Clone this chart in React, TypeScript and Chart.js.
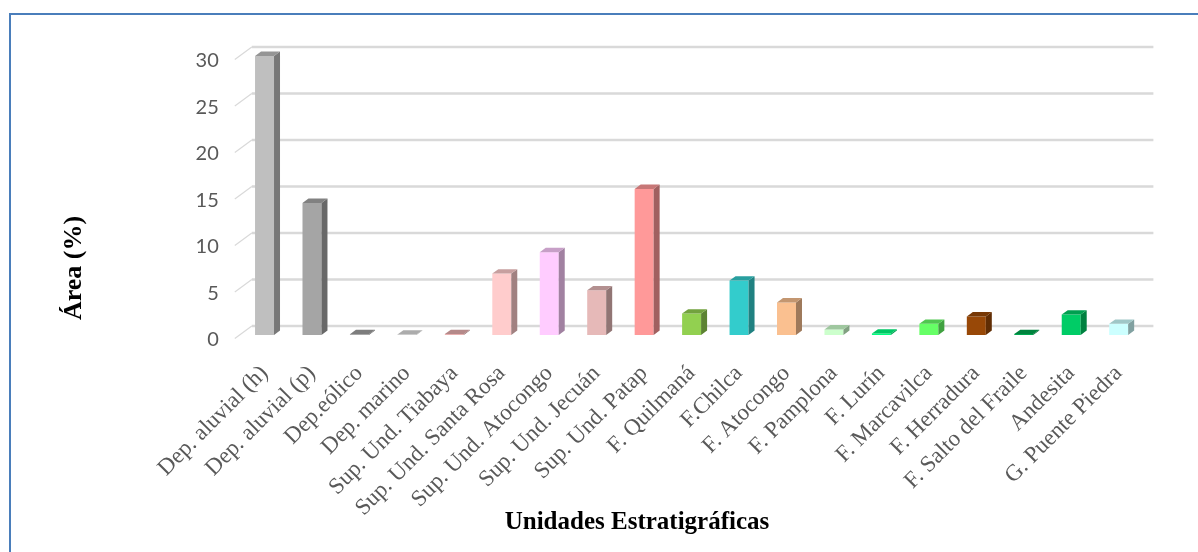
import React, { useEffect, useRef } from 'react';
import { Chart, registerables } from 'chart.js';

Chart.register(...registerables);

const categories = [
  'Dep. aluvial (h)',
  'Dep. aluvial (p)',
  'Dep.eólico',
  'Dep. marino',
  'Sup. Und. Tiabaya',
  'Sup. Und. Santa Rosa',
  'Sup. Und. Atocongo',
  'Sup. Und. Jecuán',
  'Sup. Und. Patap',
  'F. Quilmaná',
  'F.Chilca',
  'F. Atocongo',
  'F. Pamplona',
  'F. Lurín',
  'F. Marcavilca',
  'F. Herradura',
  'F. Salto del Fraile',
  'Andesita',
  'G. Puente Piedra',
];

const areaPercent = [30.0, 14.2, 0.08, 0.05, 0.1, 6.6, 8.9, 4.8, 15.7, 2.3, 5.85, 3.5, 0.6, 0.15, 1.2, 2.0, 0.1, 2.2, 1.2];

const barColors = [
  '#bfbfbf',
  '#a5a5a5',
  '#a0a0a0',
  '#dcdcdc',
  '#e8b0b0',
  '#ffcccc',
  '#ffccff',
  '#e6b9b8',
  '#ff9999',
  '#92d050',
  '#33cccc',
  '#fac090',
  '#ccffcc',
  '#00ff80',
  '#66ff66',
  '#984807',
  '#00a850',
  '#00cc66',
  '#ccffff',
];

const yTickValues = [0, 5, 10, 15, 20, 25, 30];
const yAxisTitle = 'Área (%)';
const xAxisTitle = 'Unidades Estratigráficas';

function shade(hex: string, f: number): string {
  const n = parseInt(hex.slice(1), 16);
  const r = Math.round(((n >> 16) & 255) * f);
  const g = Math.round(((n >> 8) & 255) * f);
  const b = Math.round((n & 255) * f);
  return `rgb(${r},${g},${b})`;
}

const BAR_LIFT = 5;
const BAR_DX = 6;
const BAR_DY = 4.4;
const WALL_DX = 17;
const WALL_DY = 12.4;

const threeDPlugin = {
  id: 'threeD',
  beforeDraw(chart: any) {
    const ctx = chart.ctx;
    ctx.save();
    ctx.fillStyle = '#ffffff';
    ctx.fillRect(0, 0, chart.width, chart.height);
    ctx.strokeStyle = '#4a7ebb';
    ctx.lineWidth = 2;
    ctx.beginPath();
    ctx.moveTo(10, chart.height + 2);
    ctx.lineTo(10, 14);
    ctx.lineTo(chart.width + 2, 14);
    ctx.stroke();
    ctx.restore();
  },
  beforeDatasetsDraw(chart: any) {
    const ctx = chart.ctx;
    const { left, right } = chart.chartArea;
    const y = chart.scales.y;
    ctx.save();
    yTickValues.forEach((v) => {
      const py = y.getPixelForValue(v);
      const fx = left - 6;
      const fy = py - 1.6;
      ctx.strokeStyle = '#d9d9d9';
      ctx.lineWidth = 1.2;
      ctx.beginPath();
      ctx.moveTo(fx, fy);
      ctx.lineTo(fx + WALL_DX, fy - WALL_DY);
      ctx.stroke();
      ctx.lineWidth = 2.4;
      ctx.beginPath();
      ctx.moveTo(fx + WALL_DX, fy - WALL_DY);
      ctx.lineTo(right + 11, fy - WALL_DY);
      ctx.stroke();
    });
    ctx.restore();
    ctx.save();
    ctx.translate(0, -BAR_LIFT);
  },
  afterDatasetsDraw(chart: any) {
    const ctx = chart.ctx;
    ctx.restore();
    const meta = chart.getDatasetMeta(0);
    ctx.save();
    meta.data.forEach((el: any, i: number) => {
      const p = el.getProps(['x', 'y', 'base', 'width'], true);
      const l = p.x - p.width / 2;
      const r = p.x + p.width / 2;
      const t = p.y - BAR_LIFT;
      const b = p.base - BAR_LIFT;
      const c = barColors[i];
      ctx.fillStyle = shade(c, 0.63);
      ctx.beginPath();
      ctx.moveTo(r, t);
      ctx.lineTo(r + BAR_DX, t - BAR_DY);
      ctx.lineTo(r + BAR_DX, b - BAR_DY);
      ctx.lineTo(r, b);
      ctx.closePath();
      ctx.fill();
      ctx.fillStyle = shade(c, 0.78);
      ctx.beginPath();
      ctx.moveTo(l, t);
      ctx.lineTo(l + BAR_DX, t - BAR_DY);
      ctx.lineTo(r + BAR_DX, t - BAR_DY);
      ctx.lineTo(r, t);
      ctx.closePath();
      ctx.fill();
    });
    ctx.restore();
  },
  afterDraw(chart: any) {
    const ctx = chart.ctx;
    ctx.save();
    ctx.fillStyle = '#000000';
    ctx.font = 'bold 26px "Liberation Serif"';
    ctx.textAlign = 'center';
    ctx.textBaseline = 'middle';
    ctx.translate(74, 268);
    ctx.rotate(-Math.PI / 2);
    ctx.fillText(yAxisTitle, 0, 0);
    ctx.restore();
    ctx.save();
    ctx.fillStyle = '#000000';
    ctx.font = 'bold 25px "Liberation Serif"';
    ctx.textAlign = 'center';
    ctx.textBaseline = 'middle';
    ctx.fillText(xAxisTitle, 637, 523);
    ctx.restore();
  },
};

export default function App() {
  const ref = useRef<HTMLCanvasElement>(null);
  useEffect(() => {
    if (!ref.current) return;
    const chart = new Chart(ref.current, {
      type: 'bar',
      data: {
        labels: categories,
        datasets: [
          {
            data: areaPercent,
            backgroundColor: barColors,
            borderWidth: 0,
            barPercentage: 0.4,
            categoryPercentage: 1,
          },
        ],
      },
      options: {
        responsive: false,
        animation: false,
        devicePixelRatio: 1,
        layout: { padding: { left: 140.8, right: 55.6, top: 61, bottom: 32 } },
        plugins: { legend: { display: false }, tooltip: { enabled: false } },
        scales: {
          x: {
            grid: { display: false, drawTicks: false },
            border: { display: false },
            ticks: {
              autoSkip: false,
              minRotation: 45,
              maxRotation: 45,
              padding: 20,
              color: '#595959',
              font: { family: '"Liberation Serif"', size: 23 },
            },
            afterFit: (s: any) => {
              s.height = 180;
            },
          },
          y: {
            min: 0,
            max: 30,
            grid: { display: false, drawTicks: false },
            border: { display: false },
            ticks: {
              stepSize: 5,
              padding: 22,
              color: '#595959',
              font: { family: 'Lato', size: 20 },
            },
            afterFit: (s: any) => {
              s.width = 100;
            },
          },
        },
      },
      plugins: [threeDPlugin],
    } as any);
    return () => chart.destroy();
  }, []);
  return (
    <div style={{ position: 'fixed', left: 0, top: 0, width: 1198, height: 552, background: '#fff' }}>
      <canvas ref={ref} width={1198} height={552} style={{ display: 'block' }} />
    </div>
  );
}
